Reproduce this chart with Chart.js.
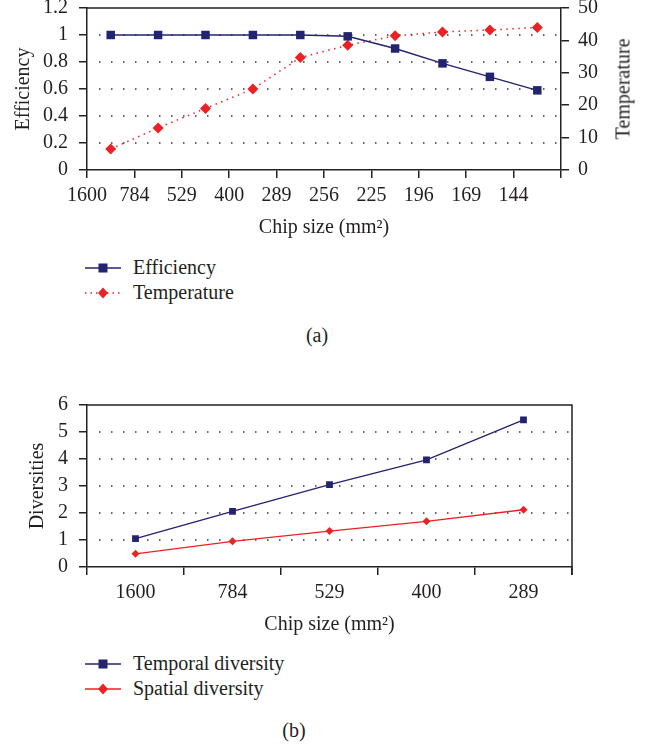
<!DOCTYPE html>
<html>
<head>
<meta charset="utf-8">
<script src="https://cdn.jsdelivr.net/npm/chart.js@4.4.1/dist/chart.umd.min.js"></script>
<style>
  body { margin: 0; background: #fff; font-family: "Liberation Serif", serif; color: #231f20; }
  #page { position: relative; width: 657px; height: 744px; overflow: hidden; }
  .box { position: absolute; left: 0; width: 657px; }
  .legend { position: absolute; left: 85px; font-size: 20px; }
  .legend div { height: 25px; display: flex; align-items: center; }
  .legend svg { margin-right: 12px; }
  .cap { position: absolute; font-size: 20px; transform: translateX(-50%); }
  .rtitle { position: absolute; font-size: 20px; transform: translate(-50%, -50%) rotate(-90deg); white-space: nowrap; }
</style>
</head>
<body>
<div id="page">
  <div class="box" style="top:-15px;height:255px"><canvas id="chartA"></canvas></div>
  <div class="rtitle" style="left:623px;top:89px">Temperature</div>
  <div class="legend" style="top:255px" id="legendA"></div>
  <div class="cap" style="left:317px;top:324px">(a)</div>

  <div class="box" style="top:382px;height:255px"><canvas id="chartB"></canvas></div>
  <div class="legend" style="top:651px" id="legendB"></div>
  <div class="cap" style="left:294px;top:719px">(b)</div>
</div>
<script>
const chipSizesA = ["1600", "784", "529", "400", "289", "256", "225", "196", "169", "144"];
const efficiency = [1, 1, 1, 1, 1, 0.99, 0.9, 0.79, 0.69, 0.59];
const temperature = [6.5, 13, 19, 25, 34.7, 38.5, 41.4, 42.6, 43.2, 44];

const chipSizesB = ["1600", "784", "529", "400", "289"];
const temporalDiversity = [1.05, 2.06, 3.05, 3.97, 5.45];
const spatialDiversity = [0.49, 0.95, 1.33, 1.69, 2.12];

const NAVY = "#232370";
const RED = "#ed2024";
const AXIS = "#222";

Chart.defaults.font.family = '"Liberation Serif", serif';
Chart.defaults.font.size = 20;
Chart.defaults.color = "#231f20";
Chart.defaults.animation = false;

// dotted horizontal grid + solid frame lines
const frame = {
  id: "frame",
  beforeDatasetsDraw(chart, args, opts) {
    const { ctx, chartArea: a } = chart;
    const y = chart.scales[opts.yId];
    ctx.save();
    ctx.strokeStyle = "#333";
    ctx.lineWidth = 1.5;
    ctx.setLineDash([1.5, 10.5]);
    for (const t of y.ticks) {
      if (t.value <= y.min || t.value >= y.max) continue;
      const py = Math.round(y.getPixelForValue(t.value));
      ctx.beginPath();
      ctx.moveTo(a.left + 12, py);
      ctx.lineTo(a.right, py);
      ctx.stroke();
    }
    ctx.setLineDash([]);
    ctx.strokeStyle = AXIS;
    ctx.lineWidth = 1.5;
    ctx.beginPath();
    ctx.moveTo(a.left, a.top);
    ctx.lineTo(a.right, a.top);
    if (opts.right) {
      ctx.lineTo(a.right, a.bottom + 8);
    }
    ctx.stroke();
    ctx.restore();
  },
};

const tickGrid = { drawOnChartArea: false, color: AXIS, tickLength: 8, lineWidth: 1.5 };
const border = { color: AXIS, width: 1.5 };

new Chart(document.getElementById("chartA"), {
  type: "line",
  data: {
    labels: chipSizesA,
    datasets: [
      {
        label: "Efficiency",
        data: efficiency,
        yAxisID: "y",
        borderColor: NAVY,
        backgroundColor: NAVY,
        borderWidth: 1.5,
        pointStyle: "rect",
        pointRadius: 6,
        pointBorderWidth: 0,
      },
      {
        label: "Temperature",
        data: temperature,
        yAxisID: "y1",
        borderColor: RED,
        backgroundColor: RED,
        borderWidth: 1.5,
        borderDash: [1.5, 4.5],
        pointStyle: "rectRot",
        pointRadius: 5.5,
        pointBorderWidth: 0,
      },
    ],
  },
  plugins: [frame],
  options: {
    responsive: true,
    maintainAspectRatio: false,
    layout: { padding: 0 },
    plugins: {
      legend: { display: false },
      tooltip: { enabled: false },
      frame: { yId: "y", right: false },
    },
    scales: {
      x: { type: "category", offset: true, display: false },
      xLab: {
        type: "linear",
        position: "bottom",
        min: 0,
        max: 10,
        afterBuildTicks: (s) => { s.ticks = chipSizesA.map((_, i) => ({ value: i })).concat([{ value: 10 }]); },
        ticks: { padding: 6, maxRotation: 0, autoSkip: false, callback: (v) => chipSizesA[v] ?? "" },
        grid: tickGrid,
        border: border,
        title: { display: true, text: "Chip size (mm²)", padding: { top: 0, bottom: 0 } },
        afterFit: (s) => { s.height = 70; },
      },
      y: {
        position: "left",
        min: 0,
        max: 1.2,
        ticks: { stepSize: 0.2, padding: 11, autoSkip: false, callback: (v) => String(Math.round(v * 10) / 10) },
        grid: tickGrid,
        border: border,
        title: { display: true, text: "Efficiency", padding: { top: 12, bottom: 0 } },
        afterFit: (s) => { s.width = 87; },
      },
      y1: {
        position: "right",
        min: 0,
        max: 50,
        ticks: { stepSize: 10, padding: 9, autoSkip: false },
        grid: tickGrid,
        border: border,
        afterFit: (s) => { s.width = 96; },
      },
    },
  },
});

new Chart(document.getElementById("chartB"), {
  type: "line",
  data: {
    labels: chipSizesB,
    datasets: [
      {
        label: "Temporal diversity",
        data: temporalDiversity,
        borderColor: NAVY,
        backgroundColor: NAVY,
        borderWidth: 1.3,
        pointStyle: "rect",
        pointRadius: 4.8,
        pointBorderWidth: 0,
      },
      {
        label: "Spatial diversity",
        data: spatialDiversity,
        borderColor: RED,
        backgroundColor: RED,
        borderWidth: 1.3,
        pointStyle: "rectRot",
        pointRadius: 4,
        pointBorderWidth: 0,
      },
    ],
  },
  plugins: [frame],
  options: {
    responsive: true,
    maintainAspectRatio: false,
    layout: { padding: { top: 0, left: 0, right: 85, bottom: 0 } },
    plugins: {
      legend: { display: false },
      tooltip: { enabled: false },
      frame: { yId: "y", right: true },
    },
    scales: {
      x: {
        type: "category",
        offset: true,
        ticks: { padding: 6, maxRotation: 0, autoSkip: false },
        grid: { ...tickGrid, offset: true },
        border: border,
        title: { display: true, text: "Chip size (mm²)", padding: { top: 0, bottom: 0 } },
        afterFit: (s) => { s.height = 70; },
      },
      y: {
        min: 0,
        max: 6,
        ticks: { stepSize: 1, padding: 11, autoSkip: false },
        grid: tickGrid,
        border: border,
        title: { display: true, text: "Diversities", padding: { top: 26, bottom: 0 } },
        afterFit: (s) => { s.width = 87; },
      },
    },
  },
});

function legendRow(label, color, marker, dotted) {
  const shape = marker === "rect"
    ? `<rect x="13.5" y="2.5" width="9" height="9" fill="${color}"/>`
    : `<polygon points="18,1.5 23,7 18,12.5 13,7" fill="${color}"/>`;
  const dash = dotted ? 'stroke-dasharray="1.5 4"' : "";
  return `<div><svg width="36" height="14"><line x1="0" y1="7" x2="36" y2="7" stroke="${color}" stroke-width="1.5" ${dash}/>${shape}</svg>${label}</div>`;
}

document.getElementById("legendA").innerHTML =
  legendRow("Efficiency", NAVY, "rect", false) + legendRow("Temperature", RED, "rectRot", true);
document.getElementById("legendB").innerHTML =
  legendRow("Temporal diversity", NAVY, "rect", false) + legendRow("Spatial diversity", RED, "rectRot", false);
</script>
</body>
</html>
